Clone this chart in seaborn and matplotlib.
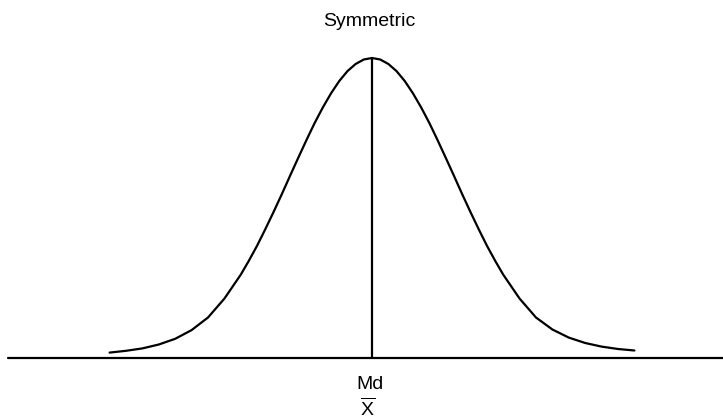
import numpy as np
import pandas as pd
import matplotlib
matplotlib.use("Agg")
import matplotlib.pyplot as plt
import seaborn as sns

# curve: position in sd units, height as fraction of the peak
z_vals = [-3.2, -3.0, -2.8, -2.6, -2.4, -2.2, -2.0, -1.8, -1.6, -1.5, -1.4, -1.3,
          -1.2, -1.1, -1.0, -0.9, -0.8, -0.7, -0.6, -0.5, -0.4, -0.3, -0.2, -0.1,
          0.0, 0.1, 0.2, 0.3, 0.4, 0.5, 0.6, 0.7, 0.8, 0.9, 1.0, 1.1, 1.2, 1.3,
          1.4, 1.5, 1.6, 1.8, 2.0, 2.2, 2.4, 2.6, 2.8, 3.0, 3.2]
heights = [0.018, 0.024, 0.032, 0.045, 0.064, 0.093, 0.135, 0.198, 0.278, 0.325,
           0.375, 0.430, 0.487, 0.546, 0.607, 0.667, 0.726, 0.783, 0.835, 0.882,
           0.923, 0.956, 0.980, 0.995, 1.000, 0.995, 0.980, 0.956, 0.923, 0.882,
           0.835, 0.783, 0.726, 0.667, 0.607, 0.546, 0.487, 0.430, 0.375, 0.325,
           0.278, 0.198, 0.135, 0.095, 0.068, 0.050, 0.038, 0.030, 0.025]
title = "Symmetric"
center_labels = ["Md", r"$\overline{\mathrm{X}}$"]

df = pd.DataFrame({"z": z_vals, "h": heights})

sns.set_style("white")
plt.rcParams["font.family"] = ["Liberation Sans", "DejaVu Sans"]
plt.rcParams["mathtext.fontset"] = "custom"
plt.rcParams["mathtext.rm"] = "Liberation Sans"

fig = plt.figure(figsize=(7.23, 4.2), dpi=100)
ax = fig.add_axes([0, 0, 1, 1])

# pixel mapping: center at x=372, 82 px per sd; baseline at y=358, peak 300 px high
ax.set_xlim(-372 / 82, (723 - 372) / 82)
ax.set_ylim(-62 / 300, 358 / 300)

sns.lineplot(data=df, x="z", y="h", color="black", linewidth=1.6, ax=ax)
ax.axhline(0, xmin=8 / 723, xmax=1, color="black", linewidth=1.6)
ax.vlines(0, 0, max(heights), color="black", linewidth=1.6)

ax.text(-0.037, 1.12, title, ha="center", va="center", fontsize=14, color="black")
ax.text(-0.024, -0.087, center_labels[0], ha="center", va="center", fontsize=14,
        color="black")
ax.text(-0.06, -0.168, center_labels[1], ha="center", va="center", fontsize=14,
        color="black")

ax.set_axis_off()
fig.savefig("out.png", dpi=100, facecolor="white")
